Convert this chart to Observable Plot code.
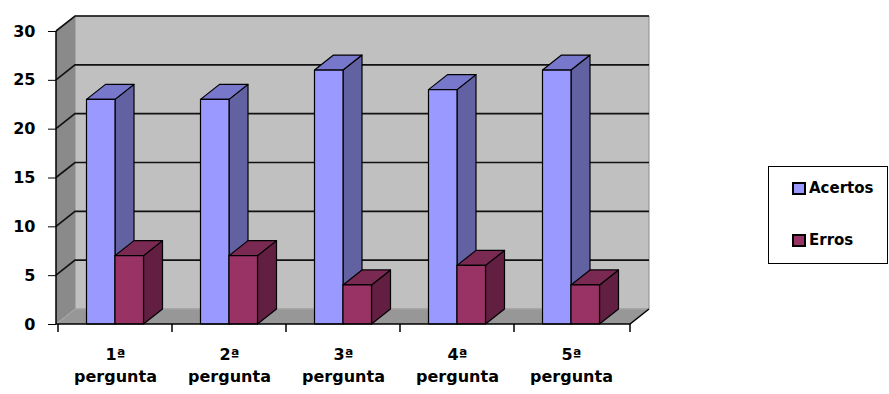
<!DOCTYPE html>
<html>
<head>
<meta charset="utf-8">
<script src="https://cdn.jsdelivr.net/npm/d3@7"></script>
<script src="https://cdn.jsdelivr.net/npm/@observablehq/plot@0.6"></script>
<style>
  body { margin: 0; background: #fff; }
  #wrap { position: relative; width: 889px; height: 394px; font-family: "DejaVu Sans", sans-serif; }
  #legend { position: absolute; left: 768px; top: 166px; width: 120px; height: 98px; border: 1px solid #000; box-sizing: border-box; background: #fff; }
  .item { position: absolute; left: 23px; display: flex; align-items: center; font-size: 15px; font-weight: bold; color: #000; }
  .sw { width: 10px; height: 9px; border: 2px solid #000; margin-right: 3px; }
</style>
</head>
<body>
<div id="wrap"><div id="chart"></div><div id="legend"></div></div>
<script>
// ---- data ----
const ordinals = ["1ª", "2ª", "3ª", "4ª", "5ª"];
const lineTwo = ["pergunta", "pergunta", "pergunta", "pergunta", "pergunta"];
const series = ["Acertos", "Erros"];
const acertos = [23, 23, 26, 24, 26];
const erros = [7, 7, 4, 6, 4];
const yTicks = [0, 5, 10, 15, 20, 25, 30];

// ---- style ----
const DX = 19, DY = -15;
const COLORS = {
  wall: "#c0c0c0", leftWall: "#8a8a8a", floor: "#979797",
  Acertos: {front: "#9999ff", top: "#7777cc", side: "#6262a2"},
  Erros: {front: "#993366", top: "#7a2952", side: "#631f41"}
};

const scene = (index, scales, values, dims) => {
  const x = scales.x, y = scales.y;
  const bw = typeof x.bandwidth === "function" ? x.bandwidth() : x.bandwidth;
  const x0 = dims.marginLeft, x1 = dims.width - dims.marginRight;
  const yb = y(0), yt = y(yTicks[yTicks.length - 1]);
  const g = d3.create("svg:g");
  const poly = (pts, fill, stroke, sw) => g.append("polygon")
    .attr("points", pts.map(p => p.join(",")).join(" "))
    .attr("fill", fill).attr("stroke", stroke || "none").attr("stroke-width", sw || 1)
    .attr("stroke-linejoin", "round");
  // walls
  poly([[x0 + DX, yt + DY], [x1 + DX, yt + DY], [x1 + DX, yb + DY], [x0 + DX, yb + DY]], COLORS.wall, "#8c8c8c", 1);
  poly([[x0, yb], [x0, yt], [x0 + DX, yt + DY], [x0 + DX, yb + DY]], COLORS.leftWall);
  poly([[x0, yb], [x1, yb], [x1 + DX, yb + DY], [x0 + DX, yb + DY]], COLORS.floor);
  g.append("path").attr("d", `M${x0},${yb}L${x0 + DX},${yb + DY}L${x1 + DX},${yb + DY}`)
    .attr("fill", "none").attr("stroke", "#a8a8a8").attr("stroke-width", 1);
  // gridlines
  for (const t of yTicks) {
    if (t === 0) continue;
    const yy = y(t);
    g.append("path").attr("d", `M${x0},${yy}L${x0 + DX},${yy + DY}L${x1 + DX},${yy + DY}`)
      .attr("fill", "none").attr("stroke", "#111").attr("stroke-width", 1.6);
  }
  // bars
  ordinals.forEach((c, i) => {
    const bx = x(c);
    [[acertos[i], COLORS.Acertos], [erros[i], COLORS.Erros]].forEach(([v, col], j) => {
      const l = bx + bw * (0.25 + 0.25 * j), r = l + bw * 0.25, top = y(v);
      poly([[r, yb], [r, top], [r + DX, top + DY], [r + DX, yb + DY]], col.side, "#000", 1.2);
      poly([[l, top], [r, top], [r + DX, top + DY], [l + DX, top + DY]], col.top, "#000", 1.2);
      poly([[l, yb], [l, top], [r, top], [r, yb]], col.front, "#000", 1.2);
    });
  });
  // front edges
  g.append("path").attr("d", `M${x0},${yt}L${x0},${yb}L${x1},${yb}L${x1 + DX},${yb + DY}`)
    .attr("fill", "none").attr("stroke", "#000").attr("stroke-width", 1.5);
  const bounds = ordinals.map(c => x(c)).concat([x1]);
  for (const bxp of bounds) {
    g.append("line").attr("x1", bxp).attr("x2", bxp).attr("y1", yb).attr("y2", yb + 8)
      .attr("stroke", "#000").attr("stroke-width", 1.5);
  }
  return g.node();
};

const plot = Plot.plot({
  width: 740,
  height: 394,
  marginLeft: 56,
  marginRight: 110,
  marginTop: 31,
  marginBottom: 70,
  style: {fontFamily: "DejaVu Sans, sans-serif", fontSize: "16px", fontWeight: "bold", color: "#000", background: "#fff"},
  x: {type: "band", domain: ordinals, padding: 0, axis: null},
  y: {domain: [0, 30], ticks: yTicks, tickSize: 8, tickPadding: 13, label: null},
  marks: [
    scene,
    Plot.text(ordinals, {x: d => d, y: d => 0, text: d => d, dy: 30, fontSize: 16, fontWeight: "bold", fill: "#000"}),
    Plot.text(ordinals.map((d, i) => ({c: d, t: lineTwo[i]})), {x: "c", y: d => 0, text: "t", dy: 52, fontSize: 16, fontWeight: "bold", fill: "#000", letterSpacing: "0.6px"})
  ]
});
document.getElementById("chart").appendChild(plot);

// legend
const legend = document.getElementById("legend");
series.forEach((s, i) => {
  const it = document.createElement("div");
  it.className = "item";
  it.style.top = (i === 0 ? 12 : 64) + "px";
  const sw = document.createElement("div");
  sw.className = "sw";
  sw.style.background = COLORS[s].front;
  it.appendChild(sw);
  const tx = document.createElement("span");
  tx.textContent = s;
  it.appendChild(tx);
  legend.appendChild(it);
});
</script>
</body>
</html>
